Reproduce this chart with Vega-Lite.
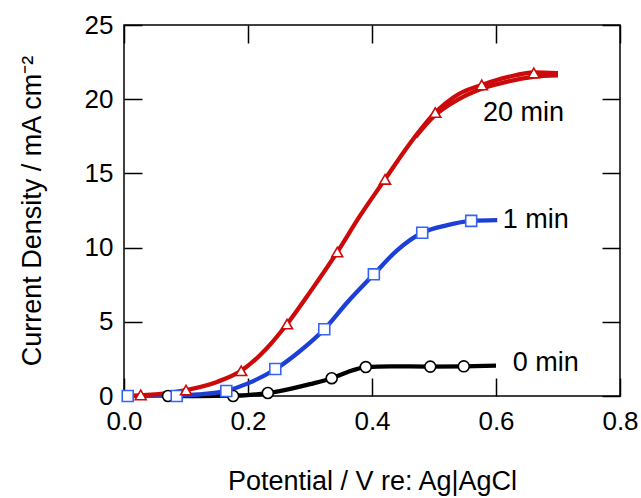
{
  "$schema": "https://vega.github.io/schema/vega-lite/v6.json",
  "width": 496,
  "height": 371,
  "autosize": "none",
  "padding": {"left": 124, "top": 25, "right": 21, "bottom": 102},
  "background": "white",
  "config": {
    "view": {"stroke": "black", "strokeWidth": 1.5},
    "font": "Liberation Sans",
    "axis": {
      "grid": false,
      "domain": false,
      "labelFlush": false,
      "labelFont": "Liberation Sans",
      "titleFont": "Liberation Sans",
      "labelColor": "black",
      "titleColor": "black",
      "tickColor": "black",
      "tickWidth": 1.5,
      "labelFontSize": 26,
      "titleFontSize": 27,
      "titleFontWeight": "normal"
    }
  },
  "datasets": {
    "lines": [
      {"s": "0 min", "b": "f", "x": 0.07, "y": 0.0},
      {"s": "0 min", "b": "f", "x": 0.12, "y": 0.0},
      {"s": "0 min", "b": "f", "x": 0.176, "y": 0.02},
      {"s": "0 min", "b": "f", "x": 0.2, "y": 0.06},
      {"s": "0 min", "b": "f", "x": 0.232, "y": 0.2},
      {"s": "0 min", "b": "f", "x": 0.27, "y": 0.5},
      {"s": "0 min", "b": "f", "x": 0.3, "y": 0.8},
      {"s": "0 min", "b": "f", "x": 0.335, "y": 1.2},
      {"s": "0 min", "b": "f", "x": 0.36, "y": 1.6},
      {"s": "0 min", "b": "f", "x": 0.39, "y": 1.95},
      {"s": "0 min", "b": "f", "x": 0.43, "y": 2.0},
      {"s": "0 min", "b": "f", "x": 0.494, "y": 1.98},
      {"s": "0 min", "b": "f", "x": 0.548, "y": 2.0},
      {"s": "0 min", "b": "f", "x": 0.6, "y": 2.05},
      {"s": "1 min", "b": "f", "x": 0.0, "y": 0.0},
      {"s": "1 min", "b": "f", "x": 0.085, "y": 0.02},
      {"s": "1 min", "b": "f", "x": 0.12, "y": 0.1},
      {"s": "1 min", "b": "f", "x": 0.165, "y": 0.35},
      {"s": "1 min", "b": "f", "x": 0.2, "y": 0.85},
      {"s": "1 min", "b": "f", "x": 0.244, "y": 1.8},
      {"s": "1 min", "b": "f", "x": 0.28, "y": 2.9},
      {"s": "1 min", "b": "f", "x": 0.323, "y": 4.5},
      {"s": "1 min", "b": "f", "x": 0.36, "y": 6.3},
      {"s": "1 min", "b": "f", "x": 0.403, "y": 8.2},
      {"s": "1 min", "b": "f", "x": 0.44, "y": 9.8},
      {"s": "1 min", "b": "f", "x": 0.481, "y": 11.0},
      {"s": "1 min", "b": "f", "x": 0.52, "y": 11.5},
      {"s": "1 min", "b": "f", "x": 0.56, "y": 11.8},
      {"s": "1 min", "b": "f", "x": 0.602, "y": 11.85},
      {"s": "20 min", "b": "f", "x": 0.01, "y": 0.0},
      {"s": "20 min", "b": "f", "x": 0.027, "y": 0.05},
      {"s": "20 min", "b": "f", "x": 0.06, "y": 0.15},
      {"s": "20 min", "b": "f", "x": 0.1, "y": 0.4},
      {"s": "20 min", "b": "f", "x": 0.15, "y": 0.95},
      {"s": "20 min", "b": "f", "x": 0.189, "y": 1.7},
      {"s": "20 min", "b": "f", "x": 0.23, "y": 3.2},
      {"s": "20 min", "b": "f", "x": 0.263, "y": 4.85},
      {"s": "20 min", "b": "f", "x": 0.3, "y": 7.0},
      {"s": "20 min", "b": "f", "x": 0.344, "y": 9.7},
      {"s": "20 min", "b": "f", "x": 0.38, "y": 12.1},
      {"s": "20 min", "b": "f", "x": 0.421, "y": 14.6},
      {"s": "20 min", "b": "f", "x": 0.46, "y": 16.95},
      {"s": "20 min", "b": "f", "x": 0.502, "y": 19.1},
      {"s": "20 min", "b": "f", "x": 0.54, "y": 20.35},
      {"s": "20 min", "b": "f", "x": 0.577, "y": 20.96},
      {"s": "20 min", "b": "f", "x": 0.62, "y": 21.5},
      {"s": "20 min", "b": "f", "x": 0.661, "y": 21.8},
      {"s": "20 min", "b": "f", "x": 0.7, "y": 21.75},
      {"s": "20 min", "b": "r", "x": 0.7, "y": 21.6},
      {"s": "20 min", "b": "r", "x": 0.66, "y": 21.5},
      {"s": "20 min", "b": "r", "x": 0.62, "y": 21.2},
      {"s": "20 min", "b": "r", "x": 0.577, "y": 20.7},
      {"s": "20 min", "b": "r", "x": 0.54, "y": 20.0},
      {"s": "20 min", "b": "r", "x": 0.5, "y": 18.85},
      {"s": "20 min", "b": "r", "x": 0.47, "y": 17.45}
    ],
    "markers": [
      {"s": "0 min", "x": 0.071, "y": 0.0},
      {"s": "0 min", "x": 0.176, "y": 0.0},
      {"s": "0 min", "x": 0.232, "y": 0.2},
      {"s": "0 min", "x": 0.335, "y": 1.2},
      {"s": "0 min", "x": 0.39, "y": 1.95},
      {"s": "0 min", "x": 0.494, "y": 1.98},
      {"s": "0 min", "x": 0.548, "y": 2.0},
      {"s": "1 min", "x": 0.006, "y": 0.0},
      {"s": "1 min", "x": 0.085, "y": 0.0},
      {"s": "1 min", "x": 0.165, "y": 0.34},
      {"s": "1 min", "x": 0.244, "y": 1.82},
      {"s": "1 min", "x": 0.323, "y": 4.5},
      {"s": "1 min", "x": 0.403, "y": 8.2},
      {"s": "1 min", "x": 0.481, "y": 11.0},
      {"s": "1 min", "x": 0.56, "y": 11.8},
      {"s": "20 min", "x": 0.027, "y": 0.07},
      {"s": "20 min", "x": 0.1, "y": 0.4},
      {"s": "20 min", "x": 0.189, "y": 1.7},
      {"s": "20 min", "x": 0.263, "y": 4.85},
      {"s": "20 min", "x": 0.344, "y": 9.7},
      {"s": "20 min", "x": 0.421, "y": 14.6},
      {"s": "20 min", "x": 0.502, "y": 19.1},
      {"s": "20 min", "x": 0.577, "y": 20.96},
      {"s": "20 min", "x": 0.661, "y": 21.77}
    ],
    "labels": [
      {"s": "20 min", "x": 0.579, "y": 19.07},
      {"s": "1 min", "x": 0.611, "y": 11.86},
      {"s": "0 min", "x": 0.627, "y": 2.22}
    ]
  },
  "resolve": {"axis": {"x": "independent", "y": "independent"}},
  "layer": [
    {
      "data": {"name": "lines"},
      "mark": {"type": "line", "strokeWidth": 4.3, "interpolate": "monotone"},
      "encoding": {
        "x": {"field": "x", "type": "quantitative",
              "scale": {"domain": [0, 0.8], "nice": false, "zero": false},
              "axis": {"orient": "bottom", "values": [0, 0.2, 0.4, 0.6, 0.8], "format": ".1f",
                       "tickSize": -18, "labelPadding": 30,
                       "title": "Potential / V re: Ag|AgCl", "titlePadding": 34}},
        "y": {"field": "y", "type": "quantitative",
              "scale": {"domain": [0, 25], "nice": false},
              "axis": {"orient": "left", "values": [0, 5, 10, 15, 20, 25],
                       "tickSize": -18, "labelPadding": 29,
                       "title": "Current Density / mA cm⁻²", "titlePadding": 38}},
        "color": {"field": "s", "type": "nominal",
                  "scale": {"domain": ["0 min", "1 min", "20 min"], "range": ["#000000", "#1c3fd6", "#cc0a0a"]},
                  "legend": null},
        "detail": {"field": "b"}
      }
    },
    {
      "data": {"name": "markers"},
      "mark": {"type": "point", "filled": true, "fill": "white", "strokeWidth": 1.6, "opacity": 1},
      "encoding": {
        "x": {"field": "x", "type": "quantitative",
              "axis": {"orient": "top", "values": [0, 0.2, 0.4, 0.6, 0.8], "labels": false, "tickSize": -18, "title": null}},
        "y": {"field": "y", "type": "quantitative",
              "axis": {"orient": "right", "values": [0, 5, 10, 15, 20, 25], "labels": false, "tickSize": -18, "title": null}},
        "shape": {"field": "s", "type": "nominal",
                  "scale": {"domain": ["0 min", "1 min", "20 min"], "range": ["circle", "square", "triangle-up"]},
                  "legend": null},
        "stroke": {"field": "s", "type": "nominal",
                   "scale": {"domain": ["0 min", "1 min", "20 min"], "range": ["#000000", "#3563f5", "#cc0a0a"]},
                   "legend": null},
        "size": {"value": 120}
      }
    },
    {
      "data": {"name": "labels"},
      "mark": {"type": "text", "align": "left", "baseline": "middle", "fontSize": 27, "font": "Liberation Sans", "color": "black"},
      "encoding": {
        "x": {"field": "x", "type": "quantitative", "axis": null},
        "y": {"field": "y", "type": "quantitative", "axis": null},
        "text": {"field": "s"}
      }
    }
  ]
}
